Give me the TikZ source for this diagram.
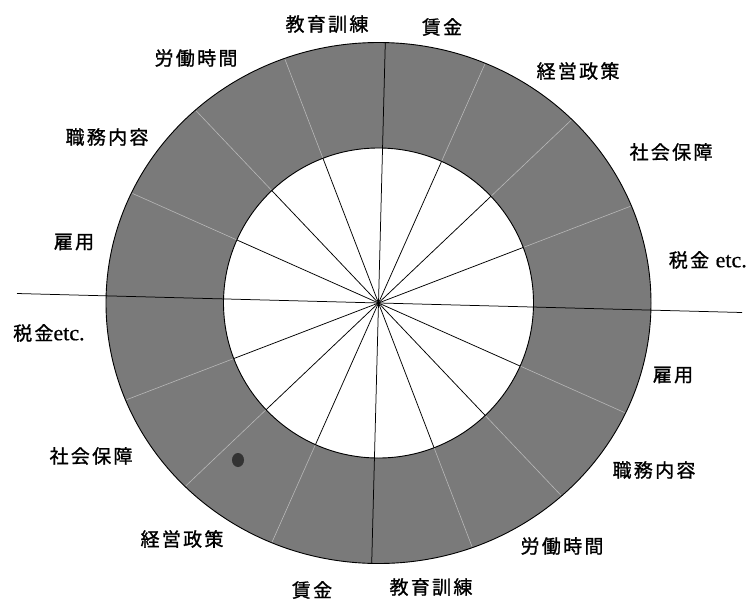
\documentclass[tikz,border=0pt]{standalone}
\usepackage{fontspec}
\setmainfont{Liberation Serif}
\newfontfamily\jp[LetterSpace=12,FakeBold=1.2]{Noto Sans CJK JP}
\newfontfamily\lat[FakeBold=0.6]{Liberation Serif}
\begin{document}
\begin{tikzpicture}[x=1pt,y=-1pt,
  lbl/.style={font=\jp\fontsize{19}{19}\selectfont, inner sep=0pt},
  ringfill/.style={fill=black!52},
  edge/.style={draw=black, line width=0.9pt},
  spoke/.style={draw=black, line width=0.75pt},
  divider/.style={draw=black!28, line width=0.6pt}]
\useasboundingbox (0,0) rectangle (750,606);
\pgfmathsetmacro{\cx}{378.5}
\pgfmathsetmacro{\cy}{303}
\pgfmathsetmacro{\rin}{155}
\pgfmathsetmacro{\rx}{272.5}
\pgfmathsetmacro{\ry}{260.5}
\coordinate (c) at (\cx,\cy);
% ring
\fill[ringfill, even odd rule] (c) ellipse [x radius=\rx, y radius=\ry] (c) circle [radius=\rin];
% ring dividers (non-axis directions)
\foreach \k in {1,2,3,5,6,7,9,10,11,13,14,15}{
  \pgfmathsetmacro{\a}{\k*22.5+1.5}
  \pgfmathsetmacro{\t}{100*(2.725*2.605)/sqrt((2.605*cos(\a))^2+(2.725*sin(\a))^2)-1}
  \draw[divider] ({\cx+\rin*cos(\a)},{\cy+\rin*sin(\a)}) -- ({\cx+\t*cos(\a)},{\cy+\t*sin(\a)});
}
% inner spokes
\foreach \k in {1,2,3,5,6,7,9,10,11,13,14,15}{
  \pgfmathsetmacro{\a}{\k*22.5+1.5}
  \draw[spoke] (c) -- ({\cx+\rin*cos(\a)},{\cy+\rin*sin(\a)});
}
% axes
\coordinate (hl) at (17,293.5);
\coordinate (hr) at (742,312.5);
\coordinate (vt) at (385.3,42.6);
\coordinate (vb) at (371.7,563.4);
\draw[spoke] (hl) -- (hr);
\draw[spoke] (vt) -- (vb);
% outlines
\draw[edge] (c) ellipse [x radius=\rx, y radius=\ry];
\draw[edge] (c) circle [radius=\rin];
% blot
\fill[black!80] (238,460) ellipse [x radius=6, y radius=7];
% labels top half
\node[lbl] (t1) at (327,24) {教育訓練};
\node[lbl] (t2) at (442,27) {賃金};
\node[lbl] (t3) at (578,71) {経営政策};
\node[lbl] (t4) at (671,152) {社会保障};
\node[lbl, anchor=east] (t5) at (747,260) {税金 \lat\fontsize{22}{22}\selectfont etc.};
\node[lbl] (t6) at (74,242) {雇用};
\node[lbl] (t7) at (107,137) {職務内容};
\node[lbl] (t8) at (196,58) {労働時間};
% labels bottom half
\node[lbl, anchor=west] (b1) at (13,333) {税金\lat\fontsize{22}{22}\selectfont etc.};
\node[lbl] (b2) at (91,456) {社会保障};
\node[lbl] (b3) at (182,539) {経営政策};
\node[lbl] (b4) at (312,590) {賃金};
\node[lbl] (b5) at (431,587) {教育訓練};
\node[lbl] (b6) at (562,546) {労働時間};
\node[lbl] (b7) at (654,470) {職務内容};
\node[lbl] (b8) at (673,375) {雇用};
\end{tikzpicture}
\end{document}
